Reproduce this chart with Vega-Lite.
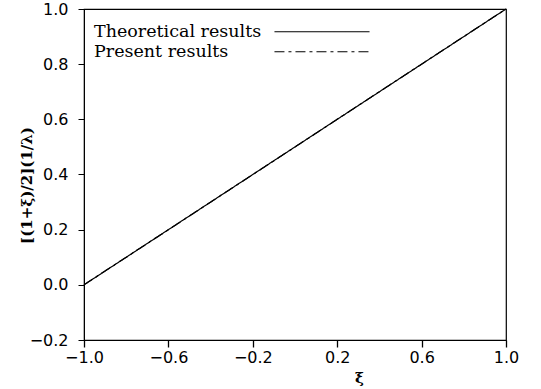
{
  "$schema": "https://vega.github.io/schema/vega-lite/v6.json",
  "width": 422,
  "height": 331,
  "autosize": "none",
  "padding": {"left": 84, "top": 9, "right": 35, "bottom": 49},
  "background": "white",
  "config": {
    "view": {"stroke": "black", "strokeWidth": 1.2},
    "axis": {
      "grid": false,
      "domainColor": "black",
      "tickColor": "black",
      "labelColor": "black",
      "titleColor": "black",
      "labelFont": "DejaVu Sans",
      "labelFontSize": 16,
      "labelFontWeight": "normal",
      "labelFlush": false
    }
  },
  "data": {
    "values": [
      {"xi": -1.0, "v": 0.0, "series": "Theoretical results"},
      {"xi": -0.6, "v": 0.2, "series": "Theoretical results"},
      {"xi": -0.2, "v": 0.4, "series": "Theoretical results"},
      {"xi": 0.2, "v": 0.6, "series": "Theoretical results"},
      {"xi": 0.6, "v": 0.8, "series": "Theoretical results"},
      {"xi": 1.0, "v": 1.0, "series": "Theoretical results"},
      {"xi": -1.0, "v": 0.0, "series": "Present results"},
      {"xi": -0.6, "v": 0.2, "series": "Present results"},
      {"xi": -0.2, "v": 0.4, "series": "Present results"},
      {"xi": 0.2, "v": 0.6, "series": "Present results"},
      {"xi": 0.6, "v": 0.8, "series": "Present results"},
      {"xi": 1.0, "v": 1.0, "series": "Present results"}
    ]
  },
  "mark": {"type": "line", "color": "black", "strokeWidth": 1.2},
  "encoding": {
    "x": {
      "field": "xi",
      "type": "quantitative",
      "scale": {"domain": [-1, 1], "nice": false},
      "axis": {
        "values": [-1.0, -0.6, -0.2, 0.2, 0.6, 1.0],
        "format": ".1f",
        "tickSize": 7,
        "tickWidth": 1.3,
        "labelPadding": 2,
        "encode": {"ticks": {"update": {"y2": {"value": -7}}}},
        "title": "ξ",
        "titleFont": "DejaVu Serif",
        "titleFontSize": 15,
        "titleFontWeight": "bold",
        "titleX": 275,
        "titleY": 30
      }
    },
    "y": {
      "field": "v",
      "type": "quantitative",
      "scale": {"domain": [-0.2, 1.0], "nice": false, "zero": false},
      "axis": {
        "values": [-0.2, 0.0, 0.2, 0.4, 0.6, 0.8, 1.0],
        "format": ".1f",
        "tickSize": 6,
        "labelPadding": 10,
        "title": "[(1+ξ)/2](1/λ)",
        "titleFont": "DejaVu Serif",
        "titleFontSize": 15,
        "titleFontWeight": "bold",
        "titleY": 176,
        "titleX": -50
      }
    },
    "strokeDash": {
      "field": "series",
      "type": "nominal",
      "scale": {
        "domain": ["Theoretical results", "Present results"],
        "range": [[1, 0], [10, 4, 3, 4]]
      },
      "legend": {
        "orient": "none",
        "legendX": 10,
        "legendY": 14,
        "title": null,
        "labelFont": "DejaVu Serif",
        "labelFontSize": 17.5,
        "labelColor": "black",
        "labelLimit": 400,
        "symbolType": "M-20,0H20",
        "symbolSize": 22.6,
        "symbolStrokeColor": "black",
        "symbolStrokeWidth": 1.2,
        "rowPadding": 1,
        "encode": {
          "symbols": {"update": {"x": {"value": 228}}},
          "labels": {"update": {"x": {"value": 0}}}
        }
      }
    }
  }
}
